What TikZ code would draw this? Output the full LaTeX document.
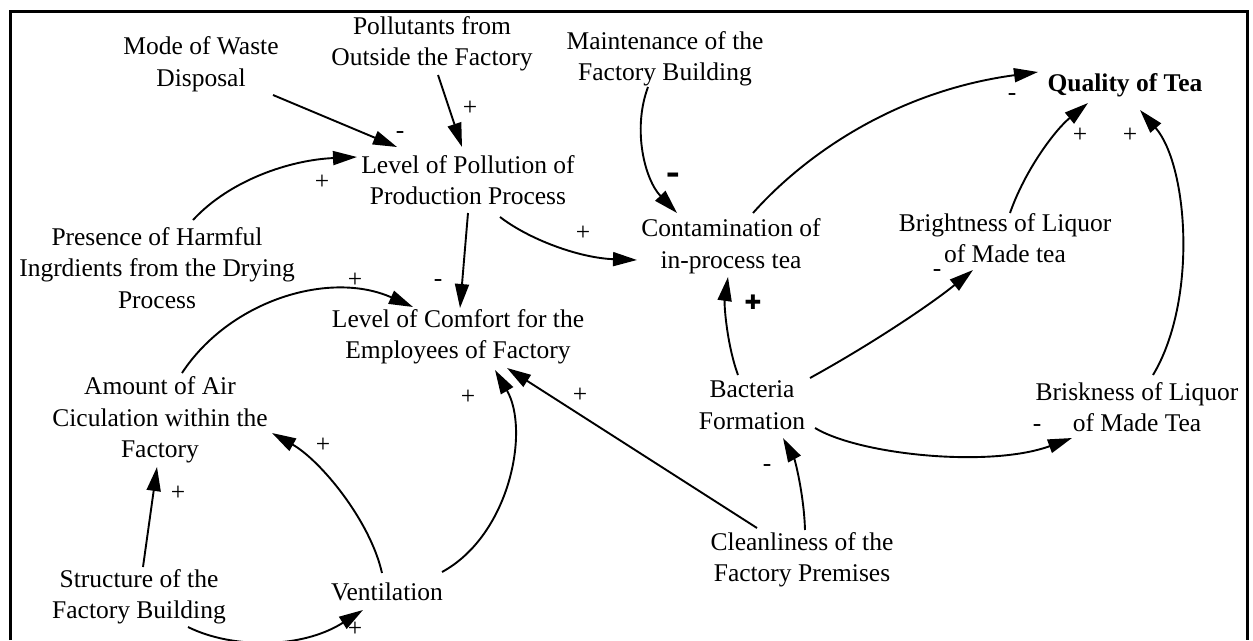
\documentclass[tikz,border=0pt]{standalone}
\usepackage{fontspec}
\setmainfont{Liberation Serif}
\newfontfamily\heavyfont{DejaVu Sans}
\usetikzlibrary{arrows.meta,calc}
\begin{document}
\begin{tikzpicture}[x=1pt,y=-1pt,
  var/.style={font=\fontsize{25.5}{31.5}\selectfont, align=center, inner sep=0pt},
  sign/.style={font=\fontsize{25.5}{30}\selectfont, inner sep=0pt},
  link/.style={line width=1.9pt, -{Triangle[length=24pt,width=14pt]}},
  frame/.style={line width=3pt}]
\useasboundingbox (0,0) rectangle (1253,640);

% open frame (top, left and right sides)
\draw[frame] (10,640) -- (10,11) -- (1247,11) -- (1247,640);

% variables
\node[var] (waste)   at (201,64)  {Mode of Waste\\Disposal};
\node[var] (pollut)  at (432,44)  {Pollutants from\\Outside the Factory};
\node[var] (maint)   at (665,59)  {Maintenance of the\\Factory Building};
\node[var,font=\fontsize{25.5}{31.5}\selectfont\bfseries] (quality) at (1125,85) {Quality of Tea};
\node[var] (level)   at (468,180) {Level of Pollution of\\Production Process};
\node[var] (harmful) at (157,268) {Presence of Harmful\\Ingrdients from the Drying\\Process};
\node[var] (contam)  at (731,246) {Contamination of\\in-process tea};
\node[var] (bright)  at (1005,238) {Brightness of Liquor\\of Made tea};
\node[var] (comfort) at (458,337) {Level of Comfort for the\\Employees of Factory};
\node[var] (air)     at (160,420) {Amount of Air\\Ciculation within the\\Factory};
\node[var] (bact)    at (752,405) {Bacteria\\Formation};
\node[var] (brisk)   at (1137,407) {Briskness of Liquor\\of Made Tea};
\node[var] (clean)   at (802,560) {Cleanliness of the\\Factory Premises};
\node[var] (struct)  at (139,597) {Structure of the\\Factory Building};
\node[var] (vent)    at (387,592) {Ventilation};

% causal links
\draw[link] ($(waste)+(72,31)$) -- ($(level)+(-71,-33)$);
\draw[link] ($(pollut)+(6,31)$) -- ($(level)+(-6,-33)$);
\draw[link] ($(harmful)+(36,-48)$) .. controls (230,180) and (290,160) .. ($(level)+(-111,-23)$);
\draw[link] ($(level)+(32,37)$) .. controls (530,240) and (580,258) .. ($(contam)+(-94,14)$);
\draw[link] ($(level)+(0,33)$) -- ($(comfort)+(2,-29)$);
\draw[link] ($(maint)+(-17,28)$) .. controls (632,130) and (645,180) .. ($(contam)+(-54,-33)$);
\draw[link] ($(contam)+(22,-33)$) .. controls (800,160) and (890,92) .. ($(quality)+(-87,-13)$);
\draw[link] ($(bact)+(-14,-30)$) .. controls (727,345) and (724,305) .. ($(contam)+(-3,31)$);
\draw[link] ($(bact)+(58,-27)$) .. controls (870,345) and (930,305) .. ($(bright)+(-32,32)$);
\draw[link] ($(bright)+(5,-25)$) .. controls (1025,170) and (1055,130) .. ($(quality)+(-37,18)$);
\draw[link] ($(brisk)+(16,-32)$) .. controls (1198,300) and (1188,165) .. ($(quality)+(15,25)$);
\draw[link] ($(bact)+(63,23)$) .. controls (860,455) and (990,468) .. ($(brisk)+(-65,31)$);
\draw[link] ($(clean)+(3,-30)$) .. controls (804,495) and (795,460) .. ($(bact)+(31,33)$);
\draw[link] ($(clean)+(-45,-32)$) -- ($(comfort)+(49,31)$);
\draw[link] ($(vent)+(55,-20)$) .. controls (510,535) and (530,430) .. ($(comfort)+(37,33)$);
\draw[link] ($(air)+(22,-47)$) .. controls (230,300) and (330,270) .. ($(comfort)+(-45,-30)$);
\draw[link] ($(vent)+(-5,-19)$) .. controls (370,520) and (320,460) .. ($(air)+(112,13)$);
\draw[link] ($(struct)+(4,-30)$) -- ($(air)+(-3,47)$);
\draw[link] ($(struct)+(49,30)$) .. controls (230,648) and (300,650) .. ($(vent)+(-24,18)$);

% polarity signs
\node[sign] (p1)  at (400,135)  {-};
\node[sign] (p2)  at (470,108)  {+};
\node[sign] (p3)  at (322,182)  {+};
\node[sign] (p4)  at (583,233)  {+};
\node[sign] (p5)  at (438,283)  {-};
\node[sign] (p6)  at (673,180)  {\scalebox{1.6}[1.9]{\bfseries -}};
\node[sign] (p7)  at (1012,97)  {-};
\node[sign,font=\fontsize{20}{20}\heavyfont] (p8) at (753,302) {✚};
\node[sign] (p9)  at (937,273)  {-};
\node[sign] (p10) at (1080,135) {+};
\node[sign] (p11) at (1130,135) {+};
\node[sign] (p12) at (1037,428) {-};
\node[sign] (p13) at (767,468)  {-};
\node[sign] (p14) at (580,395)  {+};
\node[sign] (p15) at (468,397)  {+};
\node[sign] (p16) at (355,280)  {+};
\node[sign] (p17) at (323,445)  {+};
\node[sign] (p18) at (178,493)  {+};
\node[sign] (p19) at (355,629)  {+};
\end{tikzpicture}
\end{document}
